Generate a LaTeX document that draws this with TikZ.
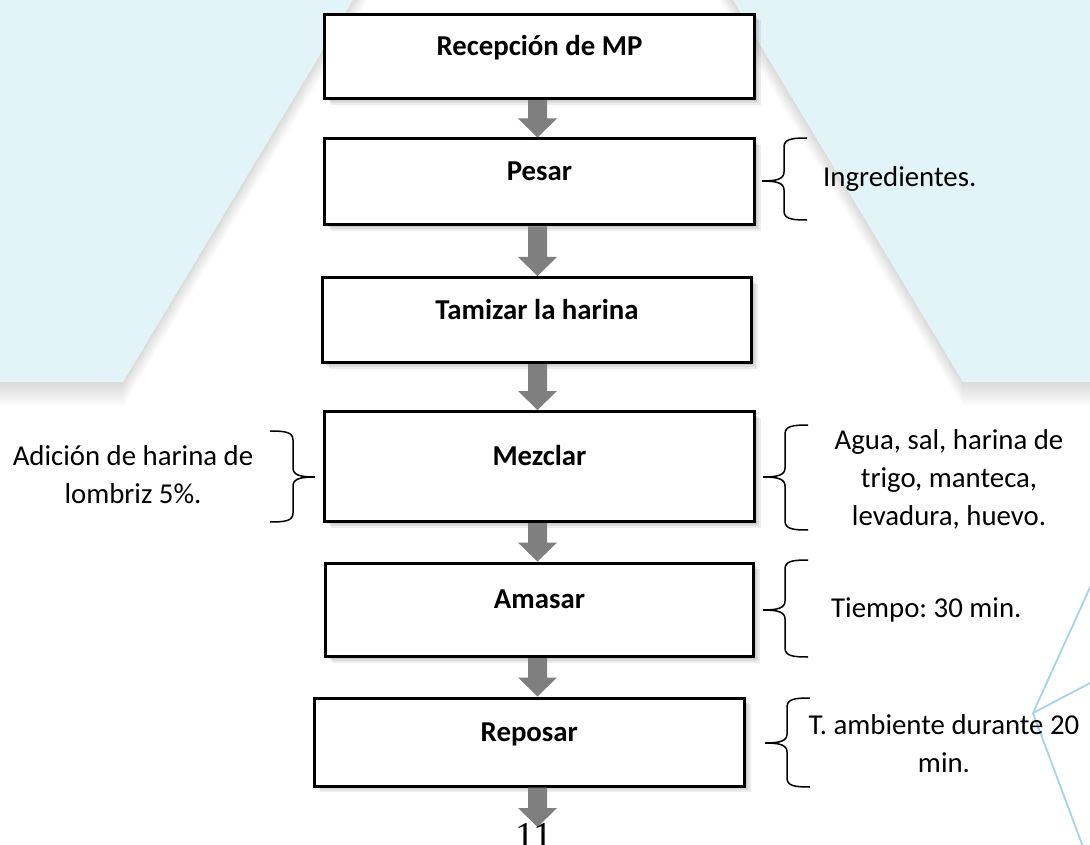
\documentclass[tikz,border=0pt]{standalone}
\usepackage{fontspec}
\setmainfont{Carlito}
\newfontfamily\pagenumfont{Liberation Serif}
\usetikzlibrary{calc}

\definecolor{bgcyan}{RGB}{226,244,248}
\definecolor{arrowgray}{RGB}{127,127,127}
\definecolor{lineblue}{RGB}{165,212,232}

% block arrow between two points (#1 start, #2 tip)
\newcommand\blockarrow[2]{%
  \fill[arrowgray] ($(#1)+(-9.5,0)$) -- ($(#2)+(-9.5,-19)$) -- ($(#2)+(-19.5,-19)$) -- (#2)
    -- ($(#2)+(19.5,-19)$) -- ($(#2)+(9.5,-19)$) -- ($(#1)+(9.5,0)$) -- cycle;}
% opening brace, tip on the left: #1 tip x, #2 top y, #3 middle y, #4 bottom y
\newcommand\drawLbrace[4]{%
  \draw[bracepen] (#1+45,#2) .. controls (#1+30,#2) and (#1+22,#2+1) .. (#1+22,#2+9)
    -- (#1+22,#3-9) .. controls (#1+22,#3-2) and (#1+15,#3) .. (#1,#3)
    .. controls (#1+15,#3) and (#1+22,#3+2) .. (#1+22,#3+9)
    -- (#1+22,#4-9) .. controls (#1+22,#4-1) and (#1+30,#4) .. (#1+45,#4);}
% closing brace, tip on the right
\newcommand\drawRbrace[4]{%
  \draw[bracepen] (#1-45,#2) .. controls (#1-30,#2) and (#1-22,#2+1) .. (#1-22,#2+9)
    -- (#1-22,#3-9) .. controls (#1-22,#3-2) and (#1-15,#3) .. (#1,#3)
    .. controls (#1-15,#3) and (#1-22,#3+2) .. (#1-22,#3+9)
    -- (#1-22,#4-9) .. controls (#1-22,#4-1) and (#1-30,#4) .. (#1-45,#4);}
% background panel with soft shadow below it
\newcommand\bgpanel[1]{%
  \foreach \s in {2,4,...,24} {\fill[black, opacity=0.012, yshift=-\s pt] #1;}
  \fill[bgcyan] #1;}

\begin{document}
\begin{tikzpicture}[x=1pt,y=-1pt,
  stepbox/.style={draw=black, line width=3pt, fill=white, rectangle, inner sep=0pt,
    font=\bfseries\fontsize{28.8}{38}\selectfont, text height=20pt, text depth=22pt},
  boxshadow/.style={fill=black, opacity=0.07},
  sidetext/.style={font=\fontsize{28.8}{38}\selectfont\frenchspacing, inner sep=0pt, align=center},
  bracepen/.style={line width=1.5pt, black}]

\useasboundingbox (0,0) rectangle (1090,845);
\clip (0,0) rectangle (1090,845);
\fill[white] (0,0) rectangle (1090,845);

% background
\bgpanel{(0,-30) -- (371,-30) -- (123,382) -- (0,382) -- cycle}
\bgpanel{(715,-30) -- (1120,-30) -- (1120,382) -- (963,382) -- cycle}
\draw[lineblue, line width=1.8pt, line join=round] (1092,583) -- (1033,713) -- (1092,682);
\draw[lineblue, line width=1.8pt] (1033,713) -- (1086,855);

\coordinate (ax) at (537.5,0);
\coordinate (endpt) at (537.5,827);

% soft shadows of the boxes
\foreach \cx/\cy/\w/\h in {539.5/56.3/430/84.5, 539.5/182/430/86, 537/320/429/85,
    539.5/466.5/430/110, 539.5/609.8/428/93.5, 529.3/742/430.5/88} {
  \foreach \d in {2,4,6} {
    \fill[boxshadow] (\cx-\w/2+\d,\cy-\h/2+\d) rectangle (\cx+\w/2+\d,\cy+\h/2+\d);}
}

% process boxes
\node[stepbox, minimum width=430pt, minimum height=84.5pt] (b1) at (539.5,56.3) {Recepción de MP};
\node[stepbox, minimum width=430pt, minimum height=86pt] (b2) at (539.5,182) {Pesar};
\node[stepbox, minimum width=429pt, minimum height=85pt] (b3) at (537,320) {Tamizar la harina};
\node[stepbox, minimum width=430pt, minimum height=110pt] (b4) at (539.5,466.5) {Mezclar};
\node[stepbox, minimum width=428pt, minimum height=93.5pt] (b5) at (539.5,609.8) {Amasar};
\node[stepbox, minimum width=430.5pt, minimum height=88pt] (b6) at (529.3,742) {Reposar};

% arrows
\blockarrow{b1.south -| ax}{b2.north -| ax}
\blockarrow{b2.south -| ax}{b3.north -| ax}
\blockarrow{b3.south -| ax}{b4.north -| ax}
\blockarrow{b4.south -| ax}{b5.north -| ax}
\blockarrow{b5.south -| ax}{b6.north -| ax}
\blockarrow{b6.south -| ax}{endpt}

% braces
\drawLbrace{762}{138}{181}{220}
\drawLbrace{763}{425}{477}{530}
\drawLbrace{763}{560}{610}{657}
\drawLbrace{765}{698}{743}{787}
\drawRbrace{315}{431}{477}{522}

% side texts (anchor base = baseline of the last line)
\node[sidetext, anchor=base west] (t2) at (823,187) {Ingredientes.};
\node[sidetext, anchor=base] (t4r) at (949,525) {Agua, sal, harina de\\trigo, manteca,\\levadura, huevo.};
\node[sidetext, anchor=base] (t4l) at (133,503) {Adición de harina de\\lombriz 5\%.};
\node[sidetext, anchor=base west] (t5) at (831,617) {Tiempo: 30 min.};
\node[sidetext, anchor=base] (t6) at (944,772) {T. ambiente durante 20\\min.};

% page number
\node[font=\pagenumfont\fontsize{38}{38}\selectfont, anchor=base, inner sep=0pt] (pg) at (534,848) {11};
\end{tikzpicture}
\end{document}
